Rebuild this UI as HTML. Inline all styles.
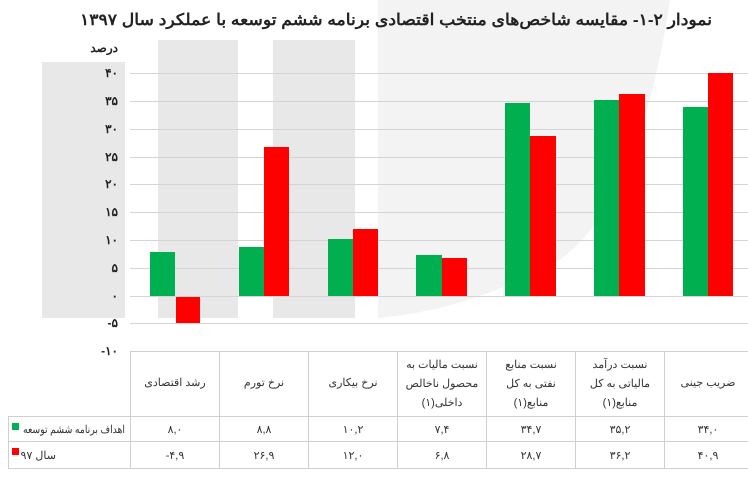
<!DOCTYPE html>
<html><head><meta charset="utf-8"><style>
html,body{margin:0;padding:0;background:#fff;width:748px;height:482px;overflow:hidden}
svg{display:block}
text{font-family:"Liberation Sans","Noto Sans CJK SC",sans-serif}
</style></head><body>
<svg width="748" height="482" viewBox="0 0 748 482" xmlns="http://www.w3.org/2000/svg">
<rect x="42" y="62" width="83" height="256" fill="#e8e8e8"/>
<rect x="158" y="40" width="80" height="278" fill="#e8e8e8"/>
<rect x="273" y="40" width="82" height="278" fill="#e8e8e8"/>
<path d="M378 0 L670 0 Q640 200 560 260 Q470 310 378 318 Z" fill="#f3f3f3"/>
<g stroke="#d4d4d4" stroke-width="1">
<line x1="130" x2="748" y1="73.5" y2="73.5"/>
<line x1="130" x2="748" y1="101.5" y2="101.5"/>
<line x1="130" x2="748" y1="129.5" y2="129.5"/>
<line x1="130" x2="748" y1="157.5" y2="157.5"/>
<line x1="130" x2="748" y1="184.5" y2="184.5"/>
<line x1="130" x2="748" y1="212.5" y2="212.5"/>
<line x1="130" x2="748" y1="240.5" y2="240.5"/>
<line x1="130" x2="748" y1="268.5" y2="268.5"/>
<line x1="130" x2="748" y1="296.5" y2="296.5"/>
<line x1="130" x2="748" y1="323.5" y2="323.5"/>
</g>
<g font-size="12" font-weight="bold" fill="#222" text-anchor="end">
<text x="118" y="77">۴۰</text><text x="118" y="105">۳۵</text><text x="118" y="133">۳۰</text>
<text x="118" y="161">۲۵</text><text x="118" y="188">۲۰</text><text x="118" y="216">۱۵</text>
<text x="118" y="244">۱۰</text><text x="118" y="272">۵</text><text x="118" y="300">۰</text>
<text x="118" y="327">-۵</text><text x="118" y="355">-۱۰</text>
</g>
<text x="118" y="52" font-size="12" font-weight="bold" fill="#222" text-anchor="start" direction="rtl">درصد</text>
<text x="712" y="25" font-size="16" font-weight="bold" fill="#222" text-anchor="start" direction="rtl" textLength="632" lengthAdjust="spacingAndGlyphs">نمودار ۲-۱- مقایسه شاخص‌های منتخب اقتصادی برنامه ششم توسعه با عملکرد سال ۱۳۹۷</text>
<g fill="#00b050">
<rect x="150" y="252" width="25" height="44"/>
<rect x="239" y="247" width="25" height="49"/>
<rect x="328" y="239" width="25" height="57"/>
<rect x="416" y="255" width="26" height="41"/>
<rect x="505" y="103" width="25" height="193"/>
<rect x="594" y="100" width="25" height="196"/>
<rect x="683" y="107" width="25" height="189"/>
</g>
<g fill="#ff0000">
<rect x="176" y="297" width="24" height="26"/>
<rect x="264" y="147" width="25" height="149"/>
<rect x="353" y="229" width="25" height="67"/>
<rect x="442" y="258" width="25" height="38"/>
<rect x="530" y="136" width="26" height="160"/>
<rect x="619" y="94" width="26" height="202"/>
<rect x="708" y="73" width="25" height="223"/>
</g>
<g stroke="#cfcfcf" stroke-width="1" fill="none">
<line x1="130.5" y1="351" x2="130.5" y2="468"/>
<line x1="219.5" y1="351" x2="219.5" y2="468"/>
<line x1="308.5" y1="351" x2="308.5" y2="468"/>
<line x1="397.5" y1="351" x2="397.5" y2="468"/>
<line x1="486.5" y1="351" x2="486.5" y2="468"/>
<line x1="575.5" y1="351" x2="575.5" y2="468"/>
<line x1="664.5" y1="351" x2="664.5" y2="468"/>
<line x1="130" y1="351.5" x2="748" y2="351.5"/>
<line x1="8" y1="416.5" x2="748" y2="416.5"/>
<line x1="8" y1="441.5" x2="748" y2="441.5"/>
<line x1="8" y1="468.5" x2="748" y2="468.5"/>
<line x1="8.5" y1="416" x2="8.5" y2="468"/>
</g>
<g font-size="11" fill="#333" text-anchor="middle" direction="rtl">
<text x="175" y="386">رشد اقتصادی</text>
<text x="264" y="386">نرخ تورم</text>
<text x="353" y="386">نرخ بیکاری</text>
<text x="442" y="368">نسبت مالیات به</text>
<text x="442" y="387">محصول ناخالص</text>
<text x="442" y="406">داخلی(۱)</text>
<text x="531" y="368">نسبت منابع</text>
<text x="531" y="387">نفتی به کل</text>
<text x="531" y="406">منابع(۱)</text>
<text x="620" y="368">نسبت درآمد</text>
<text x="620" y="387">مالیاتی به کل</text>
<text x="620" y="406">منابع(۱)</text>
<text x="708" y="386">ضریب جینی</text>
</g>
<g font-size="11" fill="#333" text-anchor="middle">
<text x="175" y="433">۸,۰</text><text x="264" y="433">۸,۸</text><text x="353" y="433">۱۰,۲</text>
<text x="442" y="433">۷,۴</text><text x="531" y="433">۳۴,۷</text><text x="620" y="433">۳۵,۲</text><text x="708" y="433">۳۴,۰</text>
<text x="175" y="459">-۴,۹</text><text x="264" y="459">۲۶,۹</text><text x="353" y="459">۱۲,۰</text>
<text x="442" y="459">۶,۸</text><text x="531" y="459">۲۸,۷</text><text x="620" y="459">۳۶,۲</text><text x="708" y="459">۴۰,۹</text>
</g>
<rect x="12" y="423" width="7" height="7" fill="#00b050"/>
<rect x="12" y="448" width="7" height="7" fill="#ff0000"/>
<g font-size="11" fill="#333" text-anchor="start" direction="rtl">
<text x="125" y="433" textLength="102" lengthAdjust="spacingAndGlyphs">اهداف برنامه ششم توسعه</text>
<text x="56" y="459">سال ۹۷</text>
</g>
</svg>
</body></html>
